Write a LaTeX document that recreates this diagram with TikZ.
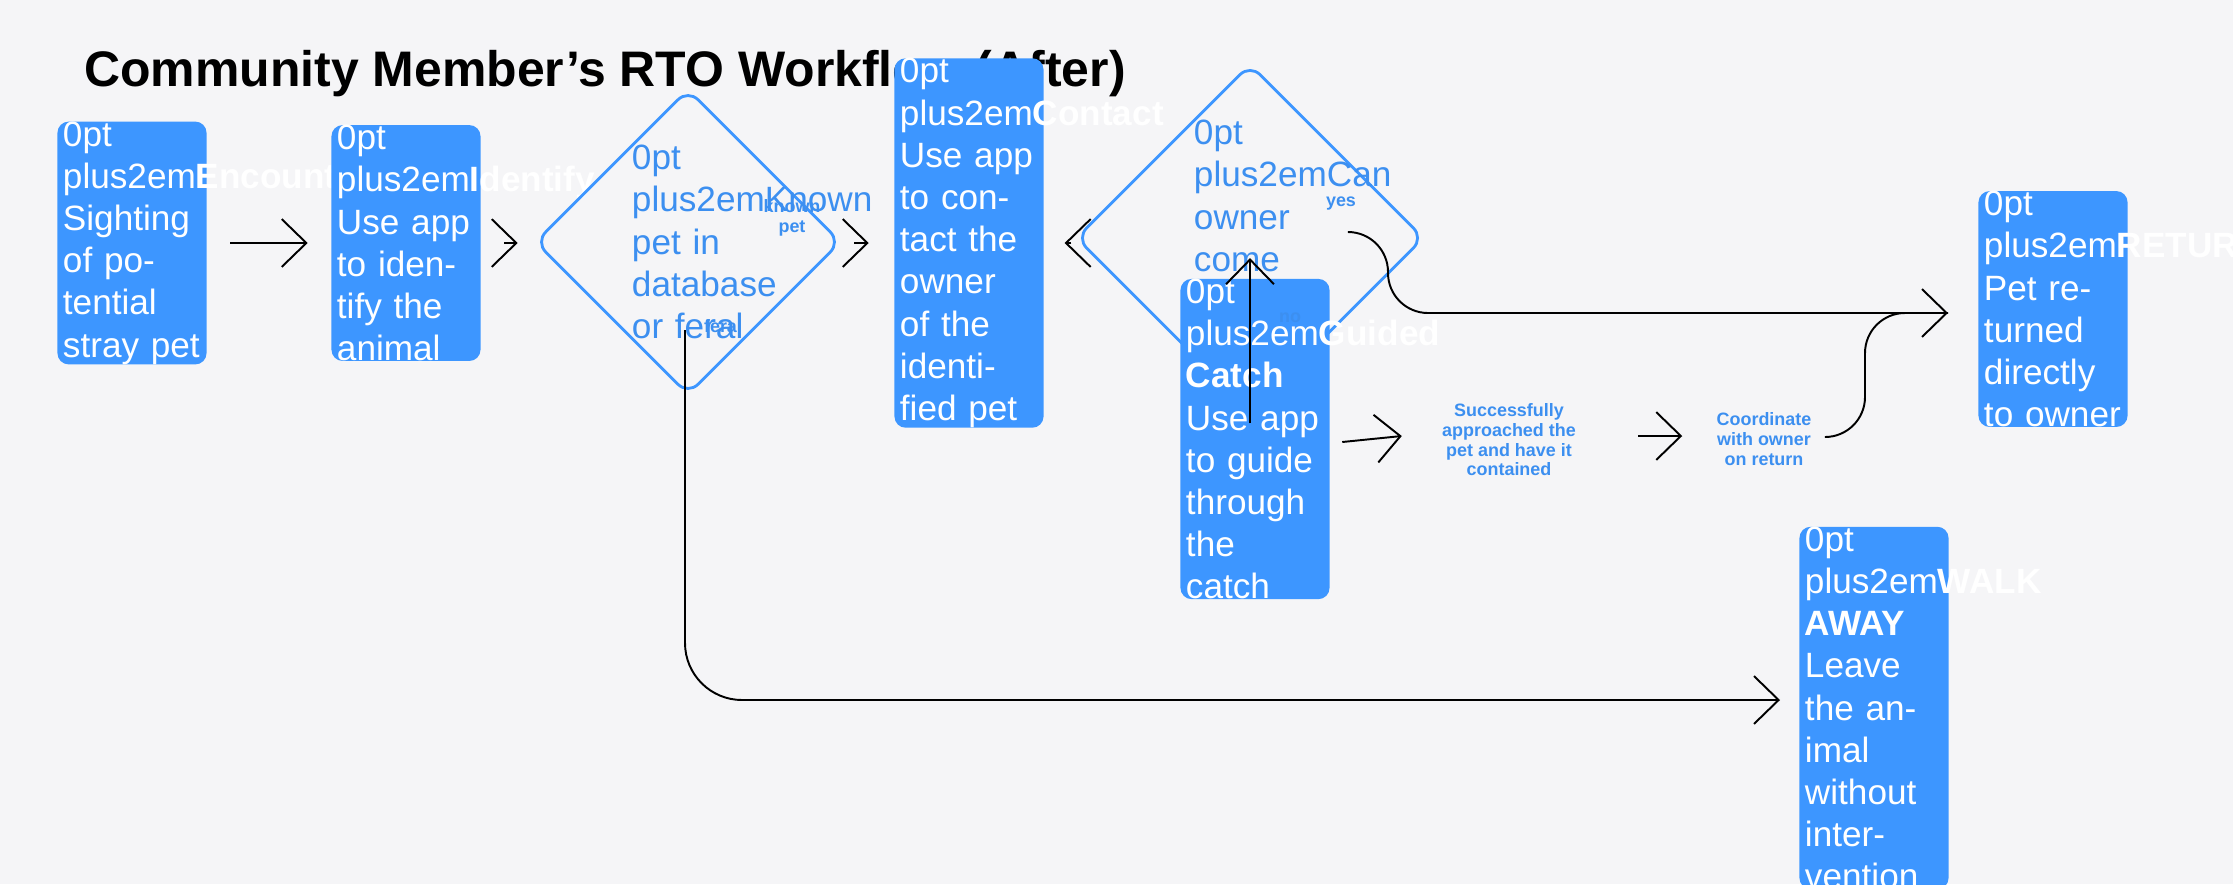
\documentclass[tikz,border=0pt]{standalone}
\usepackage{fontspec}
\setmainfont{Liberation Sans}
\usetikzlibrary{arrows.meta, shapes.geometric}
\definecolor{pageBg}{RGB}{245,245,247}
\definecolor{boxBlue}{RGB}{61,150,255}
\definecolor{textBlue}{RGB}{60,143,240}
\tikzset{
    stepBox/.style={fill=boxBlue, rounded corners=3.2pt, minimum width=1.49cm, minimum height=0.73cm,
        text width=1.38cm, align=center, text=white, inner sep=0pt,
        font=\hyphenpenalty=10000\fontsize{3.8}{4.4}\selectfont},
    decide/.style={diamond, draw=boxBlue, line width=0.8pt, rounded corners=4pt, aspect=1,
        minimum width=1.54cm, minimum height=1.54cm, inner sep=0pt, text width=1.12cm,
        align=center, text=textBlue, font=\hyphenpenalty=10000\bfseries\fontsize{5.1}{5.6}\selectfont},
    note/.style={text=textBlue, align=center, font=\bfseries\fontsize{5.1}{5.6}\selectfont},
    flow/.style={line width=0.55pt, -{Straight Barb[length=7pt, width=13.6pt, line width=0.55pt]}},
}
\begin{document}
\begin{tikzpicture}[x=0.01cm, y=-0.01cm]
    % border
    \fill[pageBg] (0,0) rectangle (2233,884);
    \useasboundingbox (0,0) rectangle (2233,884);
    % title
    \node[anchor=west, font=\bfseries\fontsize{14.2}{17}\selectfont] (title) at (72,74) {Community Member’s RTO Workflow (After)};
    % top row
    \node[stepBox] (encounter) at (132,243) {\textbf{Encounter}\\Sighting of potential stray pet};
    \node[stepBox] (identify) at (406,243) {\textbf{Identify}\\Use app to identify the animal};
    \node[decide] (known) at (688,242) {Known pet in database or feral};
    \node[stepBox] (contact) at (969,243) {\textbf{Contact}\\Use app to contact the owner of the identified pet};
    \node[decide] (owner) at (1250,238) {Can owner come right now?};
    \node[stepBox] (returned) at (2053,309) {\textbf{RETURNED}\\Pet returned directly to owner};
    % bottom rows
    \node[stepBox] (catch) at (1255,439) {\textbf{Guided Catch}\\Use app to guide through the catch};
    \node[note] (approached) at (1509,440) {Successfully\\approached the\\pet and have it\\contained};
    \node[note] (coordinate) at (1764,439) {Coordinate\\with owner\\on return};
    \node[stepBox] (walkaway) at (1874,708) {\textbf{WALK AWAY}\\Leave the animal without intervention};
    % labels
    \node[note] (knownLbl) at (792,218) {known\\pet};
    \node[note] (feralLbl) at (723,326) {feral};
    \node[note] (yesLbl) at (1341,204) {yes};
    \node[note] (noLbl) at (1290,318) {no};
    % arrows
    \draw[flow] ([xshift=0.23cm]encounter.east) -- ([xshift=-0.23cm]identify.west |- encounter.east);
    \draw[flow] ([xshift=0.23cm]identify.east) -- ([xshift=-0.16cm]known.west |- identify.east);
    \draw[flow] ([xshift=0.12cm]known.east |- contact.west) -- ([xshift=-0.25cm]contact.west);
    \draw[flow] ([xshift=0.27cm]contact.east) -- ([xshift=-0.10cm]owner.west |- contact.east);
    \draw[flow] ([yshift=-0.10cm]owner.south) -- ([yshift=0.20cm]owner.south |- catch.north);
    \draw[flow] ([xshift=0.12cm,yshift=-0.03cm]catch.east) -- ([xshift=-0.28cm]approached.west |- 0,436);
    \draw[flow] ([xshift=0.50cm]approached.east |- 0,436) -- ([xshift=-0.22cm]coordinate.west |- 0,436);
    \coordinate (yesStart) at (1349,232);
    \coordinate (merge) at (1948,313);
    \draw[flow, rounded corners=0.4cm] (yesStart) -| (1388,313) -- (merge);
    \coordinate (coordEnd) at (1827,437);
    \draw[line width=0.55pt, rounded corners=0.4cm] (coordEnd) -| (1865,313) -- (merge);
    \coordinate (feralStart) at (685,330);
    \coordinate (walkEnd) at (1780,700);
    \draw[flow, rounded corners=0.57cm] (feralStart) |- (walkEnd);
\end{tikzpicture}
\end{document}
